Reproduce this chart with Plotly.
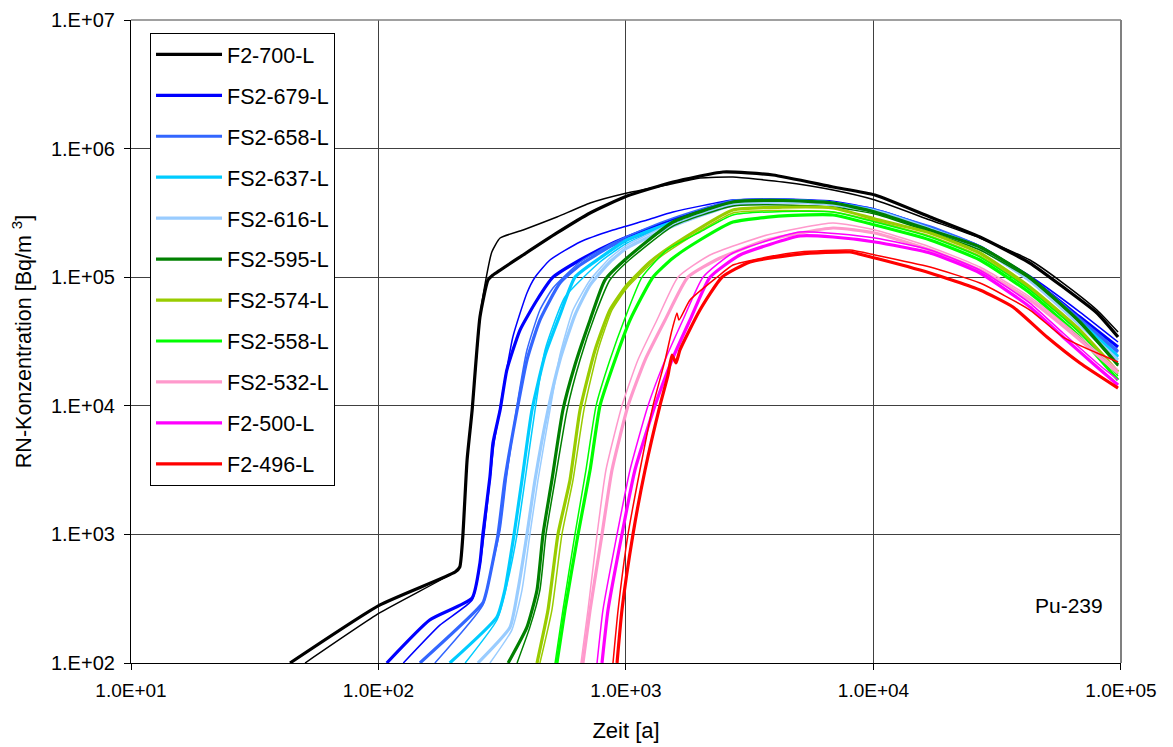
import plotly.graph_objects as go

# ---------------- data (time in years, concentration in Bq/m3) ----------------
NAMES = ["F2-700-L", "FS2-679-L", "FS2-658-L", "FS2-637-L", "FS2-616-L", "FS2-595-L",
         "FS2-574-L", "FS2-558-L", "FS2-532-L", "F2-500-L", "F2-496-L"]
COLORS = ["#000000", "#0000FF", "#3366FF", "#00CCFF", "#99CCFF", "#008000",
          "#99CC00", "#00FF00", "#FF99CC", "#FF00FF", "#FF0000"]

X_TICKS = [1e1, 1e2, 1e3, 1e4, 1e5]
X_TICKTEXT = ["1.0E+01", "1.0E+02", "1.0E+03", "1.0E+04", "1.0E+05"]
Y_TICKS = [1e2, 1e3, 1e4, 1e5, 1e6, 1e7]
Y_TICKTEXT = ["1.E+02", "1.E+03", "1.E+04", "1.E+05", "1.E+06", "1.E+07"]

# F2-700-L
T_700_A = [43.9, 101, 204, 213, 219, 228, 239, 257, 277, 290, 384, 526, 716, 1009, 1549, 2466, 3927, 6858, 10140, 16920, 26920, 42860, 58330, 80000, 97300]
C_700_A = [100, 282, 510, 558, 950, 3789, 9270, 49000, 95100, 104000, 148900, 220800, 315700, 427500, 550000, 657800, 623500, 502700, 435600, 294000, 205500, 128900, 83900, 52680, 34270]
T_700_B = [50.5, 101, 200, 213, 219, 228, 239, 257, 269, 287, 310, 384, 526, 716, 1009, 1464, 1990, 2705, 4306, 6858, 10140, 16920, 26920, 42860, 58330, 80000, 97300]
C_700_B = [100, 245, 501, 558, 950, 3789, 9270, 49000, 86900, 157100, 201800, 232800, 294000, 377600, 451700, 521100, 590600, 601200, 550000, 476500, 398300, 278600, 201800, 136100, 90100, 55590, 37470]

# FS2-679-L
T_679_A = [108, 161, 239, 257, 264, 282, 290, 310, 330, 373, 437, 507, 652, 886, 1139, 1549, 2705, 4306, 6858, 10140, 16920, 26920, 42860, 68260, 97300]
C_679_A = [100, 216, 320, 600, 1000, 2795, 5136, 9270, 18970, 38830, 66500, 100000, 136100, 184600, 224600, 278600, 390000, 400000, 384400, 333200, 241300, 171900, 98300, 49000, 28650]
T_679_B = [126, 177, 239, 257, 267, 293, 304, 349, 398, 429, 493, 652, 886, 1216, 1549, 2705, 4306, 6858, 10140, 16920, 26920, 42860, 68260, 97300]
C_679_B = [100, 197, 309, 578, 1000, 5136, 7760, 34270, 75400, 100000, 136100, 187900, 232800, 278600, 321500, 398300, 398300, 364000, 321500, 241300, 171900, 102200, 53600, 31350]

# FS2-658-L
T_658_A = [147, 264, 274, 304, 324, 363, 398, 449, 541, 652, 886, 1216, 1549, 2705, 4306, 6858, 10140, 16920, 26920, 42860, 68260, 97300]
C_658_A = [100, 293, 369, 1000, 2649, 9270, 22700, 46450, 90100, 124400, 177900, 224600, 268600, 377600, 398300, 377600, 333200, 241300, 171900, 98300, 46450, 26200]
T_658_B = [169, 264, 282, 310, 330, 363, 398, 449, 507, 652, 886, 1216, 1549, 2705, 4306, 6858, 10140, 16920, 26920, 42860, 68260, 97300]
C_658_B = [100, 282, 483, 1083, 2897, 10140, 27170, 55590, 82400, 131300, 184600, 241300, 288600, 398300, 405000, 377600, 333200, 250000, 175000, 100000, 48000, 27170]

# FS2-637-L
T_637_A = [194, 301, 324, 353, 380, 417, 471, 541, 622, 785, 1009, 1549, 2705, 4306, 6858, 10140, 16920, 26920, 42860, 68260, 97300]
C_637_A = [100, 228, 369, 1000, 2649, 9270, 24830, 50800, 100000, 141000, 194700, 268600, 377600, 395000, 377600, 327300, 237000, 168700, 95100, 44850, 23950]
T_637_B = [224, 301, 330, 363, 391, 429, 471, 567, 785, 1009, 1549, 2705, 4306, 6858, 10140, 16920, 26920, 42860, 68260, 97300]
C_637_B = [100, 216, 404, 1000, 2649, 9270, 27170, 70150, 131300, 184600, 263900, 377600, 390000, 364000, 321500, 232800, 165600, 93300, 44850, 24830]

# FS2-616-L
T_616_A = [252, 340, 366, 398, 429, 484, 541, 622, 716, 861, 1009, 1549, 2705, 4306, 6858, 10140, 16920, 26920, 42860, 68260, 97300]
C_616_A = [100, 190, 369, 1000, 2649, 9270, 22700, 50800, 86900, 131300, 168700, 250000, 364000, 385000, 370700, 327300, 237000, 168700, 95100, 42500, 22700]
T_616_B = [282, 346, 380, 409, 441, 493, 541, 611, 716, 861, 1009, 1549, 2705, 4306, 6858, 10140, 16920, 26920, 42860, 68260, 97300]
C_616_B = [100, 181, 369, 1000, 2649, 9270, 24830, 55590, 95100, 141000, 177900, 263900, 370700, 380000, 364000, 321500, 232800, 165600, 91800, 41780, 21920]

# FS2-595-L
T_595_A = [334, 398, 437, 462, 502, 556, 622, 716, 822, 1009, 1549, 2705, 4306, 6858, 10140, 16920, 26920, 42860, 68260, 97300]
C_595_A = [100, 190, 369, 1000, 2649, 9270, 20760, 46450, 95100, 141000, 268600, 384400, 395000, 377600, 321500, 232800, 171900, 100000, 44850, 20760]
T_595_B = [363, 409, 449, 475, 517, 578, 652, 750, 861, 1009, 1549, 2705, 4306, 6858, 10140, 16920, 26920, 42860, 68260, 97300]
C_595_B = [100, 190, 369, 1000, 2649, 9270, 22700, 50800, 95100, 131300, 250000, 357900, 365000, 351600, 310000, 224600, 162700, 96800, 44060, 20380]

# FS2-574-L
T_574_A = [437, 484, 531, 594, 652, 750, 861, 1009, 1250, 1549, 2705, 4306, 6858, 10140, 16920, 26920, 42860, 68260, 97300]
C_574_A = [100, 258, 1000, 2649, 9270, 27170, 55590, 86900, 131300, 177900, 333200, 350000, 345300, 283500, 220800, 154300, 83900, 38830, 18330]
T_574_B = [449, 502, 551, 611, 676, 771, 878, 1009, 1250, 1549, 2705, 4306, 6858, 10140, 16920, 26920, 42860, 68260, 97300]
C_574_B = [100, 258, 1000, 2649, 9270, 27170, 55590, 82400, 124400, 168700, 315700, 330000, 321500, 273500, 209100, 146300, 80900, 36800, 17660]

# FS2-558-L
T_558_A = [526, 567, 640, 716, 785, 903, 1038, 1285, 1549, 1990, 2705, 4306, 6858, 10140, 16920, 26920, 42860, 68260, 97300]
C_558_A = [100, 258, 1000, 3168, 10000, 22700, 46450, 100000, 141000, 194700, 268600, 300000, 304700, 254600, 194700, 136100, 75400, 34270, 15870]
T_558_B = [517, 556, 622, 689, 757, 861, 991, 1161, 1464, 1990, 2705, 4306, 6858, 10140, 16920, 26920, 42860, 68260, 97300]
C_558_B = [100, 258, 1000, 3168, 10000, 22700, 48150, 100000, 162700, 224600, 304700, 325000, 321500, 268600, 205500, 143500, 79500, 36800, 17060]

# FS2-532-L
T_532_A = [670, 716, 800, 878, 1019, 1194, 1439, 1779, 2399, 3715, 6858, 10140, 16920, 26920, 42860, 68260, 97300]
C_532_A = [100, 258, 1000, 3168, 10000, 22700, 46450, 100000, 141000, 194700, 241300, 220800, 162700, 113700, 66500, 32490, 17990]
T_532_B = [658, 702, 764, 830, 963, 1117, 1334, 1622, 2185, 3715, 6858, 10140, 16920, 26920, 42860, 68260, 97300]
C_532_B = [100, 258, 1000, 3168, 10000, 22700, 46450, 100000, 148900, 212900, 263900, 232800, 171900, 120000, 70150, 34270, 18970]

# F2-500-L
T_500_A = [800, 846, 963, 1087, 1309, 1534, 1814, 2185, 2888, 5047, 6858, 10140, 16920, 26920, 42860, 58330, 80000, 97300]
C_500_A = [100, 258, 1000, 3168, 10000, 22700, 46450, 100000, 148900, 209100, 205500, 187900, 154300, 107800, 58640, 34270, 20040, 14520]
T_500_B = [764, 807, 920, 1038, 1227, 1439, 1698, 2047, 2705, 5047, 10140, 16920, 26920, 42860, 58330, 80000, 97300]
C_500_B = [100, 258, 1000, 3168, 10000, 22700, 46450, 100000, 154300, 224600, 201800, 162700, 113700, 62950, 36800, 21530, 15870]

# F2-496-L
T_496_A = [920, 963, 1067, 1194, 1371, 1479, 1534, 1592, 1652, 1990, 2443, 3170, 5047, 8035, 10140, 16920, 26920, 36600, 50230, 68260, 97300]
C_496_A = [100, 258, 1000, 3168, 10000, 17360, 24830, 21530, 27170, 55590, 100000, 131300, 151400, 157100, 141000, 107800, 79500, 58640, 34270, 21530, 13740]
T_496_B = [886, 929, 1019, 1139, 1285, 1439, 1534, 1607, 1637, 1814, 2333, 2705, 3715, 5047, 8035, 10140, 16920, 26920, 42860, 58330, 80000, 97300]
C_496_B = [100, 258, 1000, 3168, 10000, 22700, 38830, 52680, 46450, 66500, 100000, 124400, 143500, 157100, 162700, 148900, 120000, 90100, 55590, 34270, 25740, 21920]

THICK = [(T_700_A, C_700_A), (T_679_A, C_679_A), (T_658_A, C_658_A), (T_637_A, C_637_A),
         (T_616_A, C_616_A), (T_595_A, C_595_A), (T_574_A, C_574_A), (T_558_A, C_558_A),
         (T_532_A, C_532_A), (T_500_A, C_500_A), (T_496_A, C_496_A)]
THIN = [(T_700_B, C_700_B), (T_679_B, C_679_B), (T_658_B, C_658_B), (T_637_B, C_637_B),
        (T_616_B, C_616_B), (T_595_B, C_595_B), (T_574_B, C_574_B), (T_558_B, C_558_B),
        (T_532_B, C_532_B), (T_500_B, C_500_B), (T_496_B, C_496_B)]

FONT = "Liberation Sans, Arial, sans-serif"

fig = go.Figure()
for name, color, (ta, ca), (tb, cb) in zip(NAMES, COLORS, THICK, THIN):
    fig.add_trace(go.Scatter(x=ta, y=ca, mode="lines", name=name, legendgroup=name,
                             line=dict(color=color, width=3.2, shape="spline", smoothing=0.5)))
    fig.add_trace(go.Scatter(x=tb, y=cb, mode="lines", name=name, legendgroup=name,
                             showlegend=False,
                             line=dict(color=color, width=1.5, shape="spline", smoothing=0.5)))

axis_common = dict(type="log", showgrid=True, gridcolor="#404040", gridwidth=1,
                   showline=True, linecolor="black", linewidth=1.2,
                   ticks="outside", ticklen=6, tickcolor="black",
                   zeroline=False, automargin=False)

fig.update_xaxes(range=[1, 5.0001], tickvals=X_TICKS, ticktext=X_TICKTEXT,
                 tickfont=dict(family=FONT, size=19, color="black"),
                 title=dict(text="Zeit [a]", font=dict(family=FONT, size=22, color="black"), standoff=22),
                 ticklabelstandoff=4, **axis_common)
fig.update_yaxes(range=[2, 7.0002], tickvals=Y_TICKS, ticktext=Y_TICKTEXT,
                 tickfont=dict(family=FONT, size=20, color="black"),
                 title=dict(text="RN-Konzentration [Bq/m <sup>3</sup>]",
                            font=dict(family=FONT, size=21.5, color="black"), standoff=20),
                 ticklabelstandoff=5, **axis_common)

# the page body adds an 8 px offset, so the figure is sized 8 px smaller
fig.update_layout(
    width=1165, height=739,
    margin=dict(l=123, r=52, t=12, b=84),
    plot_bgcolor="white", paper_bgcolor="white",
    font=dict(family=FONT, size=21, color="black"),
    legend=dict(x=0.0192, y=0.98, xanchor="left", yanchor="top",
                bgcolor="white", bordercolor="black", borderwidth=1,
                font=dict(family=FONT, size=21.5, color="black"),
                traceorder="grouped", tracegroupgap=10, itemwidth=66),
    shapes=[
        dict(type="line", xref="paper", yref="paper", x0=0, x1=1, y0=1, y1=1,
             line=dict(color="#808080", width=1.5)),
        dict(type="line", xref="paper", yref="paper", x0=1, x1=1, y0=0, y1=1,
             line=dict(color="#808080", width=2)),
    ],
    annotations=[
        dict(text="Pu-239", xref="paper", yref="paper", x=0.9475, y=0.090,
             xanchor="center", yanchor="middle",
             showarrow=False, font=dict(family=FONT, size=21, color="black"))
    ],
    showlegend=True,
)

fig.write_html("out.html")
